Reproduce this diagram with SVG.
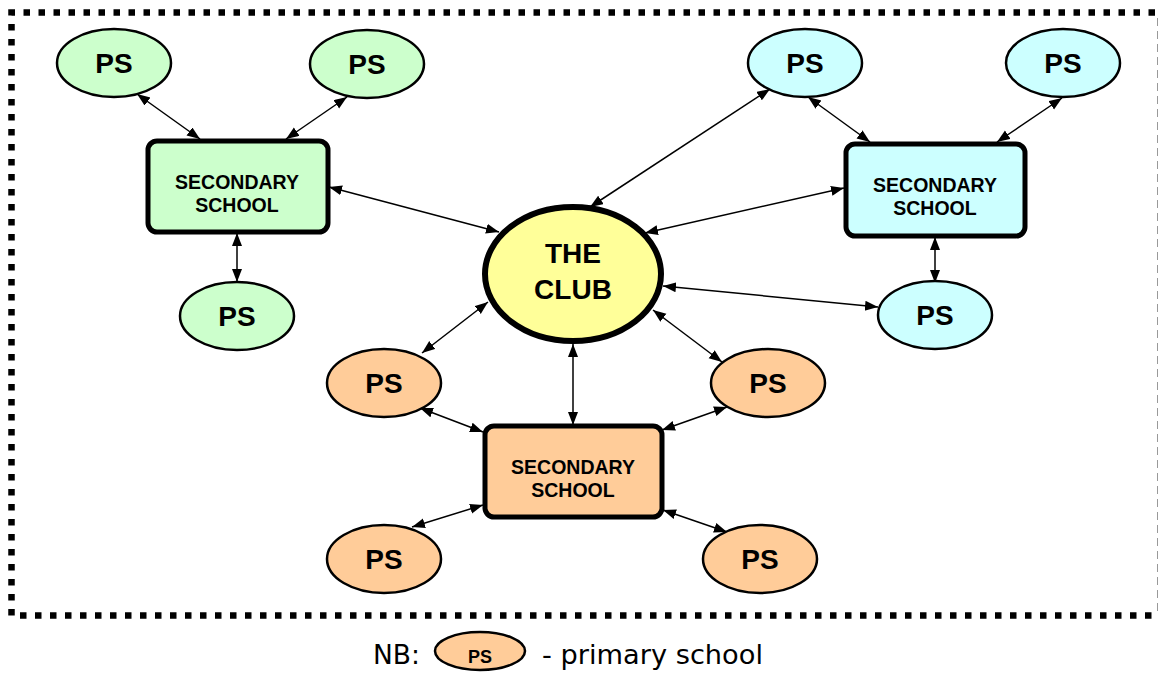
<svg xmlns="http://www.w3.org/2000/svg" width="1159" height="675" viewBox="0 0 1159 675">
  <style>
    .ps { stroke: #000; stroke-width: 2.5; }
    .ss { stroke: #000; stroke-width: 5; }
    .green { fill: #CCFFCC; }
    .cyan { fill: #CCFFFF; }
    .orange { fill: #FFCC99; }
    .club { fill: #FFFF99; stroke: #000; stroke-width: 6; }
    .lbl { font-family: "Liberation Sans", Arial, sans-serif; font-weight: bold; fill: #000; text-anchor: middle; }
    .pst { font-size: 28px; }
    .sst { font-size: 19.5px; }
    .link { stroke: #000; stroke-width: 1.5; fill: none; marker-start: url(#arrow); marker-end: url(#arrow); }
    .note { font-family: "DejaVu Sans", "Liberation Sans", sans-serif; font-size: 26px; fill: #000; }
  </style>
  <defs>
    <marker id="arrow" markerUnits="userSpaceOnUse" markerWidth="14" markerHeight="11" refX="13" refY="5" orient="auto-start-reverse">
      <path d="M0,0 L13,5 L0,10 z" fill="#000"/>
    </marker>
  </defs>

  <rect width="1159" height="675" fill="#fff"/>

  <!-- frame: dotted top, left and bottom, faint dashed right edge -->
  <path d="M1155,12.5 H11.5 V615.5 H1155" fill="none" stroke="#000" stroke-width="6.5" stroke-dasharray="6.5 8.5"/>
  <line x1="1157.5" y1="18" x2="1157.5" y2="612" stroke="#999" stroke-width="1" stroke-dasharray="8 5"/>

  <g id="connectors">
    <line class="link" x1="137" y1="94" x2="200" y2="139"/>
    <line class="link" x1="347" y1="97" x2="286" y2="139"/>
    <line class="link" x1="237" y1="233" x2="237" y2="282"/>
    <line class="link" x1="329" y1="187" x2="499" y2="232"/>
    <line class="link" x1="590" y1="207" x2="770" y2="89"/>
    <line class="link" x1="645" y1="233" x2="844" y2="188"/>
    <line class="link" x1="663" y1="286" x2="878" y2="307"/>
    <line class="link" x1="808" y1="97" x2="870" y2="142"/>
    <line class="link" x1="1062" y1="98" x2="997" y2="142"/>
    <line class="link" x1="935" y1="237" x2="935" y2="283"/>
    <line class="link" x1="488" y1="302" x2="422" y2="353"/>
    <line class="link" x1="653" y1="310" x2="722" y2="362"/>
    <line class="link" x1="573" y1="344" x2="573" y2="425"/>
    <line class="link" x1="420" y1="408" x2="483" y2="432"/>
    <line class="link" x1="727" y1="407" x2="662" y2="430"/>
    <line class="link" x1="483" y1="505" x2="412" y2="527"/>
    <line class="link" x1="663" y1="510" x2="727" y2="532"/>
  </g>

  <g id="club">
    <ellipse class="club" cx="573" cy="274" rx="88" ry="67"/>
    <text class="lbl" x="573" y="263" font-size="28">THE</text>
    <text class="lbl" x="573" y="299" font-size="28">CLUB</text>
  </g>

  <!-- green cluster -->
  <g id="ps-green-1">
    <ellipse class="ps green" cx="114" cy="63" rx="57" ry="34"/>
    <text class="lbl pst" x="114" y="73">PS</text>
  </g>
  <g id="ps-green-2">
    <ellipse class="ps green" cx="367" cy="64" rx="57" ry="34"/>
    <text class="lbl pst" x="367" y="74">PS</text>
  </g>
  <g id="ss-green">
    <rect class="ss green" x="148" y="141" width="180" height="91" rx="9"/>
    <text class="lbl sst" x="237" y="189">SECONDARY</text>
    <text class="lbl sst" x="237" y="212">SCHOOL</text>
  </g>
  <g id="ps-green-3">
    <ellipse class="ps green" cx="237" cy="316" rx="57" ry="34"/>
    <text class="lbl pst" x="237" y="326">PS</text>
  </g>

  <!-- cyan cluster -->
  <g id="ps-cyan-1">
    <ellipse class="ps cyan" cx="805" cy="63" rx="57" ry="34"/>
    <text class="lbl pst" x="805" y="73">PS</text>
  </g>
  <g id="ps-cyan-2">
    <ellipse class="ps cyan" cx="1063" cy="63" rx="57" ry="34"/>
    <text class="lbl pst" x="1063" y="73">PS</text>
  </g>
  <g id="ss-cyan">
    <rect class="ss cyan" x="846" y="144" width="179" height="92" rx="9"/>
    <text class="lbl sst" x="935" y="192">SECONDARY</text>
    <text class="lbl sst" x="935" y="215">SCHOOL</text>
  </g>
  <g id="ps-cyan-3">
    <ellipse class="ps cyan" cx="935" cy="315" rx="57" ry="34"/>
    <text class="lbl pst" x="935" y="325">PS</text>
  </g>

  <!-- orange cluster -->
  <g id="ps-orange-1">
    <ellipse class="ps orange" cx="384" cy="383" rx="57" ry="34"/>
    <text class="lbl pst" x="384" y="393">PS</text>
  </g>
  <g id="ps-orange-2">
    <ellipse class="ps orange" cx="768" cy="383" rx="57" ry="34"/>
    <text class="lbl pst" x="768" y="393">PS</text>
  </g>
  <g id="ss-orange">
    <rect class="ss orange" x="485" y="426" width="177" height="91" rx="9"/>
    <text class="lbl sst" x="573" y="474">SECONDARY</text>
    <text class="lbl sst" x="573" y="497">SCHOOL</text>
  </g>
  <g id="ps-orange-3">
    <ellipse class="ps orange" cx="384" cy="559" rx="57" ry="34"/>
    <text class="lbl pst" x="384" y="569">PS</text>
  </g>
  <g id="ps-orange-4">
    <ellipse class="ps orange" cx="760" cy="559" rx="57" ry="34"/>
    <text class="lbl pst" x="760" y="569">PS</text>
  </g>

  <!-- legend -->
  <g id="legend">
    <text class="note" x="373" y="664" textLength="47" lengthAdjust="spacingAndGlyphs">NB:</text>
    <ellipse class="ps orange" cx="480" cy="651" rx="45" ry="19"/>
    <text class="lbl" x="480" y="663" font-size="18">PS</text>
    <text class="note" x="542" y="664" textLength="221" lengthAdjust="spacingAndGlyphs">- primary school</text>
  </g>
</svg>
